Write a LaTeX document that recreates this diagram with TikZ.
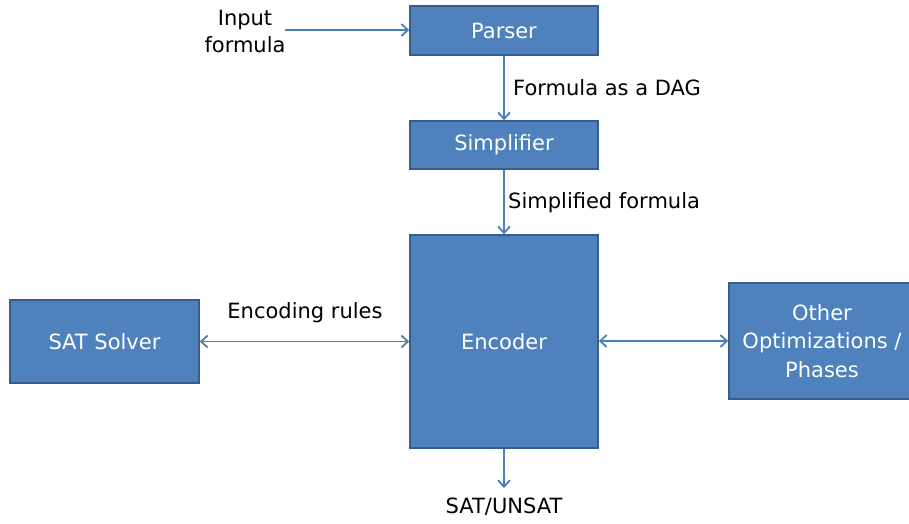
\documentclass[tikz,border=0pt]{standalone}
\usepackage{fontspec}
\setmainfont{DejaVu Sans}
\usetikzlibrary{arrows.meta}
\definecolor{boxfill}{HTML}{4F81BD}
\definecolor{boxline}{HTML}{385D8A}
\definecolor{arrowc}{HTML}{4A7EBB}
\begin{document}
\begin{tikzpicture}[x=1pt,y=-1pt,
  blk/.style={draw=boxline, line width=1.6pt, fill=boxfill, text=white, font=\fontsize{21}{28.5}\selectfont, align=center, inner sep=0pt},
  lbl/.style={text=black, font=\fontsize{21}{27}\selectfont, inner sep=0pt},
  conn/.style={draw=arrowc, line width=1.3pt, -{Straight Barb[length=6.5pt,width=12pt,line width=1.8pt]}},
  conn2/.style={draw=arrowc, line width=1.3pt, {Straight Barb[length=6.5pt,width=12pt,line width=1.8pt]}-{Straight Barb[length=6.5pt,width=12pt,line width=1.8pt]}}]
\useasboundingbox (0,0) rectangle (909,523);
\node[blk, minimum width=188pt, minimum height=49pt] (parser) at (504,30.5) {Parser};
\node[blk, minimum width=188pt, minimum height=48pt] (simp) at (504,145) {Simplifier};
\node[blk, minimum width=188pt, minimum height=213pt] (enc) at (504,341.5) {Encoder};
\node[blk, minimum width=189pt, minimum height=83pt] (sat) at (104.5,341.5) {SAT Solver};
\node[blk, minimum width=186pt, minimum height=116pt] (other) at (822,341) {Other\\Optimizations /\\Phases};
\node[lbl, align=center] (input) at (245,31) {Input\\formula};
\coordinate (inend) at (285,30);
\node[lbl, anchor=west] (dag) at (513,88) {Formula as a DAG};
\node[lbl, anchor=west] (sf) at (508,203) {Simplified formula};
\node[lbl] (rules) at (305,313) {Encoding rules};
\node[lbl] (res) at (504,507) {SAT/UNSAT};
\coordinate (resend) at (504,488);
\draw[conn] (inend) -- (parser.west |- inend);
\draw[conn] (parser) -- (simp);
\draw[conn] (simp) -- (enc);
\draw[conn2] (sat.east) -- (enc.west |- sat.east);
\draw[conn2] (enc.east |- other.west) -- (other.west);
\draw[conn] (enc.south) -- (resend);
\end{tikzpicture}
\end{document}
